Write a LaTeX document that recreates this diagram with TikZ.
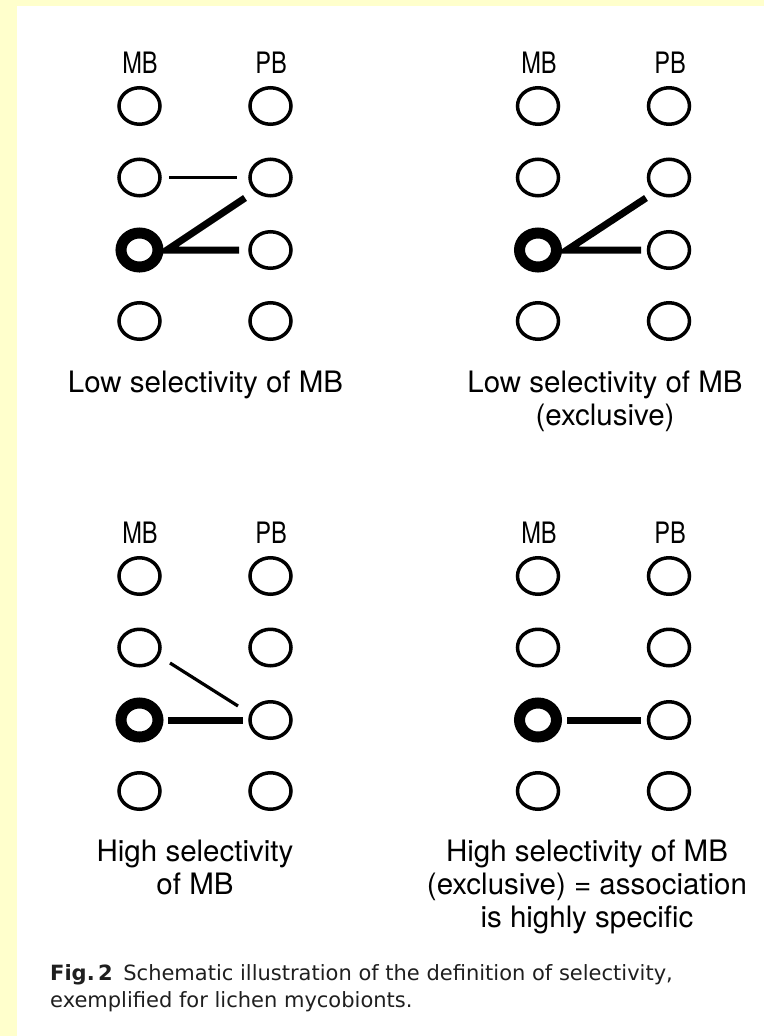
\documentclass[tikz,border=0pt]{standalone}
\usepackage{fontspec}
\setmainfont{TeX Gyre Heros}
\newfontfamily\lblfont[FakeStretch=0.8]{TeX Gyre Heros}
\newfontfamily\capfont{DejaVu Sans}
\usetikzlibrary{shapes.geometric,calc}
\definecolor{bgyellow}{HTML}{FFFFCC}
\begin{document}
\begin{tikzpicture}[x=1pt,y=-1pt,
  bub/.style={ellipse,draw,line width=3.5pt,minimum width=41pt,minimum height=36.5pt,inner sep=0pt},
  boldbub/.style={ellipse,draw,line width=11pt,minimum width=37pt,minimum height=34pt,inner sep=0pt},
  thinlink/.style={line width=3.2pt},
  thicklink/.style={line width=7pt,line join=miter},
  head/.style={font=\lblfont\fontsize{29.5}{33}\selectfont,anchor=base,inner sep=0pt},
  lbl/.style={font=\fontsize{29.5}{33}\selectfont,align=center,anchor=base,inner sep=0pt},
  capt/.style={font=\capfont\fontsize{21}{27}\selectfont,align=left,anchor=base west,inner sep=0pt,text=black!88}
]
\useasboundingbox (0,0) rectangle (764,1036);
\fill[white] (0,0) rectangle (764,1036);
\fill[bgyellow] (0,0) rectangle (17,1036);
\fill[bgyellow] (0,0) rectangle (764,6);

% ---------- Panel 1 ----------
\node[head] (h1m) at (140,73) {MB};
\node[head] (h1p) at (271,73) {PB};
\node[bub] (a1) at (139.5,106) {};
\node[bub] (a2) at (139.5,177.5) {};
\node[boldbub] (a3) at (139.5,250) {};
\node[bub] (a4) at (139.5,321) {};
\node[bub] (b1) at (270.5,106) {};
\node[bub] (b2) at (270.5,177.5) {};
\node[bub] (b3) at (270.5,250) {};
\node[bub] (b4) at (270.5,321) {};
\draw[thinlink] ($(a2)+(29.5,0)$) -- ($(b2)+(-33.5,0)$);
\draw[thicklink] ($(b2)+(-25.5,20.5)$) -- ($(a3)+(27.5,0)$) -- ($(b3)+(-31.5,0)$);
\node[lbl] (t1) at (205.5,392) {Low selectivity of MB};

% ---------- Panel 2 ----------
\node[head] (h2m) at (539,73) {MB};
\node[head] (h2p) at (670,73) {PB};
\node[bub] (c1) at (538,106) {};
\node[bub] (c2) at (538,177.5) {};
\node[boldbub] (c3) at (538,250) {};
\node[bub] (c4) at (538,321) {};
\node[bub] (d1) at (669,106) {};
\node[bub] (d2) at (669,177.5) {};
\node[bub] (d3) at (669,250) {};
\node[bub] (d4) at (669,321) {};
\draw[thicklink] ($(d2)+(-23,20.5)$) -- ($(c3)+(29,0)$) -- ($(d3)+(-28,0)$);
\node[lbl] (t2) at (605,425) {Low selectivity of MB\\(exclusive)};

% ---------- Panel 3 ----------
\node[head] (h3m) at (140,543) {MB};
\node[head] (h3p) at (271,543) {PB};
\node[bub] (e1) at (139.5,576) {};
\node[bub] (e2) at (139.5,647.5) {};
\node[boldbub] (e3) at (139.5,720) {};
\node[bub] (e4) at (139.5,791) {};
\node[bub] (f1) at (270.5,576) {};
\node[bub] (f2) at (270.5,647.5) {};
\node[bub] (f3) at (270.5,720) {};
\node[bub] (f4) at (270.5,791) {};
\draw[thinlink] ($(e2)+(30.5,15.5)$) -- ($(f3)+(-32.5,-14)$);
\draw[thicklink] ($(e3)+(28.5,0)$) -- ($(f3)+(-27.5,0)$);
\node[lbl] (t3) at (195,894) {High selectivity\\of MB};

% ---------- Panel 4 ----------
\node[head] (h4m) at (539,543) {MB};
\node[head] (h4p) at (670,543) {PB};
\node[bub] (g1) at (538,576) {};
\node[bub] (g2) at (538,647.5) {};
\node[boldbub] (g3) at (538,720) {};
\node[bub] (g4) at (538,791) {};
\node[bub] (k1) at (669,576) {};
\node[bub] (k2) at (669,647.5) {};
\node[bub] (k3) at (669,720) {};
\node[bub] (k4) at (669,791) {};
\draw[thicklink] ($(g3)+(29,0)$) -- ($(k3)+(-28,0)$);
\node[lbl] (t4) at (587,927) {High selectivity of MB\\(exclusive) = association\\is highly specific};

% ---------- Caption ----------
\node[capt] (cap) at (50,1007) {\textbf{Fig.\,2}\enspace Schematic illustration of the definition of selectivity,\\exemplified for lichen mycobionts.};
\end{tikzpicture}
\end{document}
